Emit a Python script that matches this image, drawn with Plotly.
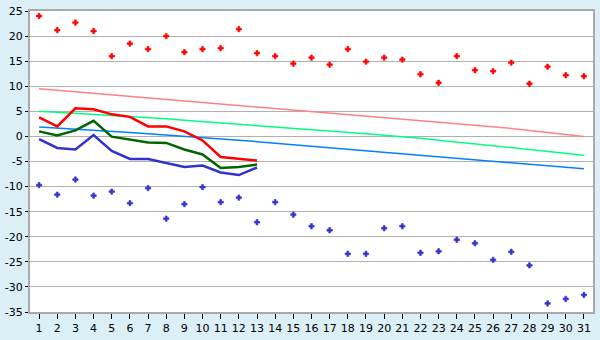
import plotly.graph_objects as go

days = list(range(1, 32))

# scattered daily extremes (markers)
red_points = [24.0, 21.2, 22.7, 21.0, 16.0, 18.5, 17.4, 20.0, 16.8, 17.4,
              17.6, 21.4, 16.6, 16.0, 14.5, 15.7, 14.3, 17.4, 14.9, 15.7,
              15.3, 12.4, 10.7, 16.0, 13.2, 13.0, 14.7, 10.5, 13.9, 12.2, 12.0]
blue_points = [-9.7, -11.6, -8.6, -11.8, -11.0, -13.3, -10.3, -16.4, -13.5, -10.1,
               -13.1, -12.2, -17.1, -13.1, -15.6, -17.9, -18.7, -23.4, -23.4, -18.3,
               -17.9, -23.2, -22.9, -20.6, -21.3, -24.6, -23.0, -25.7, -33.3, -32.4, -31.6]

# normal lines
pink_line = [9.5, 9.2, 8.9, 8.6, 8.3, 8.0, 7.7, 7.4, 7.1, 6.8,
             6.5, 6.2, 5.9, 5.6, 5.3, 5.0, 4.7, 4.4, 4.1, 3.8,
             3.5, 3.2, 2.9, 2.6, 2.3, 1.9, 1.6, 1.2, 0.8, 0.4, 0.0]
green_line = [5.0, 4.8, 4.6, 4.3, 4.1, 3.9, 3.7, 3.5, 3.2, 2.95,
              2.7, 2.45, 2.2, 1.95, 1.7, 1.4, 1.15, 0.85, 0.55, 0.25,
              0.0, -0.37, -0.75, -1.12, -1.5, -1.87, -2.25, -2.62, -3.0, -3.37, -3.75]
blue_line = [1.9, 1.7, 1.5, 1.25, 1.0, 0.8, 0.55, 0.3, 0.1, -0.15,
             -0.45, -0.75, -1.05, -1.35, -1.65, -1.95, -2.25, -2.55, -2.85, -3.15,
             -3.45, -3.75, -4.05, -4.35, -4.65, -4.95, -5.25, -5.55, -5.85, -6.15, -6.45]

# observed daily series (days 1-13)
obs_days = list(range(1, 14))
obs_max = [3.8, 2.0, 5.6, 5.4, 4.4, 3.9, 2.0, 2.0, 1.0, -0.8, -4.1, -4.5, -4.8]
obs_mean = [1.0, 0.2, 1.2, 3.1, -0.05, -0.7, -1.2, -1.3, -2.6, -3.6, -6.3, -6.1, -5.6]
obs_min = [-0.55, -2.3, -2.6, 0.27, -2.9, -4.5, -4.5, -5.3, -6.1, -5.8, -7.2, -7.7, -6.2]

y_ticks = [-35, -30, -25, -20, -15, -10, -5, 0, 5, 10, 15, 20, 25]

fig = go.Figure()
fig.add_trace(go.Scatter(x=days, y=pink_line, mode="lines", line=dict(color="#ff8080", width=1.5)))
fig.add_trace(go.Scatter(x=days, y=green_line, mode="lines", line=dict(color="#00ff80", width=1.5)))
fig.add_trace(go.Scatter(x=days, y=blue_line, mode="lines", line=dict(color="#0080ff", width=1.5)))
fig.add_trace(go.Scatter(x=obs_days, y=obs_min, mode="lines", line=dict(color="#3333cc", width=2.5)))
fig.add_trace(go.Scatter(x=obs_days, y=obs_mean, mode="lines", line=dict(color="#006600", width=2.5)))
fig.add_trace(go.Scatter(x=obs_days, y=obs_max, mode="lines", line=dict(color="#ff0000", width=2.5)))
fig.add_trace(go.Scatter(x=days, y=red_points, mode="markers",
                         marker=dict(symbol="cross", size=4.5, color="#ff0000",
                                     line=dict(color="#ff0000", width=0.6))))
fig.add_trace(go.Scatter(x=days, y=blue_points, mode="markers",
                         marker=dict(symbol="cross", size=4.5, color="#3333cc",
                                     line=dict(color="#3333cc", width=0.6))))

fig.update_layout(
    width=600, height=340,
    margin=dict(l=26, r=5, t=5, b=20),
    paper_bgcolor="#daeff6",
    plot_bgcolor="#ffffff",
    showlegend=False,
    font=dict(family="DejaVu Sans", size=11, color="#000000"),
)
fig.update_xaxes(
    range=[0.5, 31.5], tickmode="array", tickvals=days, ticktext=[str(d) for d in days],
    showgrid=False, zeroline=False,
    showline=True, linecolor="#aaaaaa", linewidth=2, mirror=True,
    ticks="outside", ticklen=5, tickcolor="#000000", tickwidth=1,
)
fig.update_yaxes(
    range=[-35, 25], tickmode="array", tickvals=y_ticks, ticktext=[str(v) for v in y_ticks],
    showgrid=True, gridcolor="#b0b0b0", gridwidth=1, zeroline=False,
    showline=True, linecolor="#aaaaaa", linewidth=2, mirror=True,
    ticks="outside", ticklen=3, tickcolor="#000000", tickwidth=1,
)

fig.write_html("out.html")
